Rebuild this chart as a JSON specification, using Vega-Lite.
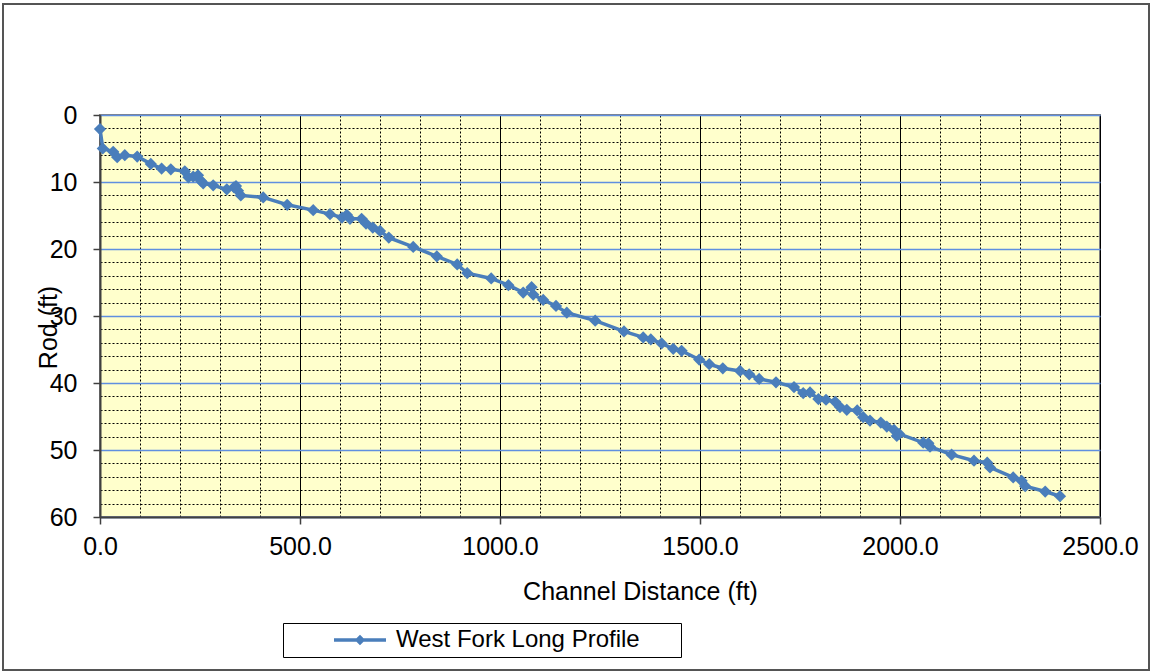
{
  "$schema": "https://vega.github.io/schema/vega-lite/v6.json",
  "autosize": {"type": "none"},
  "width": 1000,
  "height": 402,
  "padding": {"left": 100, "top": 115, "right": 51, "bottom": 155},
  "background": "white",
  "config": {
    "font": "Liberation Sans",
    "view": {"fill": "#FFFFCC", "stroke": "#808080", "strokeWidth": 2},
    "axis": {"labelFont": "Liberation Sans", "titleFont": "Liberation Sans", "labelColor": "black", "titleColor": "black", "titleFontWeight": "normal", "labelFontSize": 25, "titleFontSize": 25, "domainColor": "#404040", "domainWidth": 2, "tickColor": "#404040", "tickWidth": 1.5, "tickSize": 7}
  },
  "data": {
    "values": [
      {"d": 0, "r": 2.1}, {"d": 7, "r": 5.0}, {"d": 33, "r": 5.5}, {"d": 43, "r": 6.3}, {"d": 62, "r": 6.0},
      {"d": 93, "r": 6.2}, {"d": 127, "r": 7.3}, {"d": 154, "r": 8.0}, {"d": 177, "r": 8.1}, {"d": 212, "r": 8.4},
      {"d": 221, "r": 9.3}, {"d": 233, "r": 9.2}, {"d": 245, "r": 9.0}, {"d": 252, "r": 9.8}, {"d": 258, "r": 10.2},
      {"d": 283, "r": 10.5}, {"d": 317, "r": 11.1}, {"d": 335, "r": 10.8}, {"d": 340, "r": 10.6}, {"d": 345, "r": 11.3},
      {"d": 352, "r": 12.0}, {"d": 408, "r": 12.3}, {"d": 468, "r": 13.4}, {"d": 533, "r": 14.2}, {"d": 575, "r": 14.8},
      {"d": 605, "r": 15.3}, {"d": 617, "r": 14.9}, {"d": 625, "r": 15.5}, {"d": 654, "r": 15.5}, {"d": 665, "r": 16.2},
      {"d": 682, "r": 16.8}, {"d": 700, "r": 17.3}, {"d": 722, "r": 18.3}, {"d": 783, "r": 19.7}, {"d": 842, "r": 21.1},
      {"d": 893, "r": 22.3}, {"d": 918, "r": 23.6}, {"d": 978, "r": 24.4}, {"d": 1021, "r": 25.4}, {"d": 1058, "r": 26.5},
      {"d": 1079, "r": 25.7}, {"d": 1083, "r": 26.8}, {"d": 1108, "r": 27.6}, {"d": 1140, "r": 28.5}, {"d": 1167, "r": 29.5},
      {"d": 1238, "r": 30.7}, {"d": 1310, "r": 32.3}, {"d": 1358, "r": 33.2}, {"d": 1377, "r": 33.5}, {"d": 1404, "r": 34.1},
      {"d": 1433, "r": 34.9}, {"d": 1454, "r": 35.2}, {"d": 1498, "r": 36.5}, {"d": 1523, "r": 37.2}, {"d": 1557, "r": 37.8},
      {"d": 1600, "r": 38.2}, {"d": 1623, "r": 38.7}, {"d": 1648, "r": 39.4}, {"d": 1690, "r": 39.9}, {"d": 1735, "r": 40.6},
      {"d": 1758, "r": 41.5}, {"d": 1775, "r": 41.4}, {"d": 1796, "r": 42.4}, {"d": 1815, "r": 42.5}, {"d": 1838, "r": 42.8},
      {"d": 1850, "r": 43.6}, {"d": 1867, "r": 44.0}, {"d": 1893, "r": 44.1}, {"d": 1908, "r": 45.1}, {"d": 1925, "r": 45.6},
      {"d": 1952, "r": 45.9}, {"d": 1967, "r": 46.5}, {"d": 1985, "r": 47.0}, {"d": 1992, "r": 47.9}, {"d": 1998, "r": 47.6},
      {"d": 2058, "r": 48.9}, {"d": 2071, "r": 49.0}, {"d": 2075, "r": 49.5}, {"d": 2129, "r": 50.7}, {"d": 2185, "r": 51.6},
      {"d": 2218, "r": 51.9}, {"d": 2225, "r": 52.6}, {"d": 2283, "r": 54.1}, {"d": 2304, "r": 54.6}, {"d": 2313, "r": 55.4},
      {"d": 2363, "r": 56.2}, {"d": 2400, "r": 56.9}
    ]
  },
  "layer": [
    {
      "mark": {"type": "line", "strokeWidth": 3.5, "point": {"shape": "diamond", "filled": true, "size": 150, "opacity": 1}},
      "encoding": {
        "x": {
          "field": "d", "type": "quantitative",
          "scale": {"domain": [0, 2500], "nice": false, "zero": false},
          "axis": {
            "title": "Channel Distance (ft)",
            "values": [0,100,200,300,400,500,600,700,800,900,1000,1100,1200,1300,1400,1500,1600,1700,1800,1900,2000,2100,2200,2300,2400,2500],
            "tickCount": 1000,
            "format": ".1f",
            "labelExpr": "datum.value % 500 === 0 ? datum.label : ''",
            "labelPadding": 10,
            "labelFlush": false,
            "labelOverlap": false,
            "tickOpacity": {"condition": {"test": "datum.value % 500 === 0", "value": 1}, "value": 0},
            "grid": true,
            "gridColor": "black",
            "gridOpacity": 1,
            "gridWidth": 1,
            "gridDash": {"condition": {"test": "datum.value % 500 === 0", "value": []}, "value": [2, 2]},
            "titleX": 540,
            "titleY": 74,
            "titleBaseline": "middle"
          }
        },
        "y": {
          "field": "r", "type": "quantitative",
          "scale": {"domain": [0, 60], "nice": false, "reverse": true, "zero": false},
          "axis": {
            "title": "Rod (ft)",
            "values": [0,2,4,6,8,10,12,14,16,18,20,22,24,26,28,30,32,34,36,38,40,42,44,46,48,50,52,54,56,58,60],
            "tickCount": 1000,
            "format": "d",
            "labelExpr": "datum.value % 10 === 0 ? datum.label : ''",
            "labelPadding": 16,
            "labelFlush": false,
            "labelOverlap": false,
            "tickOpacity": {"condition": {"test": "datum.value % 10 === 0", "value": 1}, "value": 0},
            "grid": true,
            "gridOpacity": 1,
            "gridColor": {"condition": {"test": "datum.value % 10 === 0", "value": "#5F8FE0"}, "value": "black"},
            "gridWidth": {"condition": {"test": "datum.value % 10 === 0", "value": 1.5}, "value": 1},
            "gridDash": {"condition": {"test": "datum.value % 10 === 0", "value": []}, "value": [2, 2]},
            "titleX": -52,
            "titleY": 212,
            "titleBaseline": "middle"
          }
        },
        "color": {
          "datum": "West Fork Long Profile",
          "scale": {"range": ["#4A7EBB"]},
          "legend": {
            "title": null,
            "orient": "none",
            "legendX": 183,
            "legendY": 508,
            "strokeColor": "black",
            "fillColor": "white",
            "padding": 5,
            "symbolType": "M-2.6,0L2.6,0M-0.28,0L0,-0.28L0.28,0L0,0.28Z",
            "symbolSize": 400,
            "symbolStrokeWidth": 3.5,
            "symbolFillColor": "#4A7EBB",
            "symbolStrokeColor": "#4A7EBB",
            "symbolOffset": 60,
            "labelOffset": 24,
            "labelFontSize": 24,
            "labelFont": "Liberation Sans",
            "labelColor": "black",
            "labelLimit": 0,
            "labelExpr": "datum.label + '\u2800\u2800'"
          }
        }
      }
    },
    {
      "mark": {"type": "rect", "fill": null, "fillOpacity": 0, "stroke": "#555555", "strokeWidth": 1.5, "clip": false},
      "encoding": {
        "x": {"datum": -242},
        "x2": {"datum": 2622},
        "y": {"datum": -16.6},
        "y2": {"datum": 82.8}
      }
    }
  ]
}
